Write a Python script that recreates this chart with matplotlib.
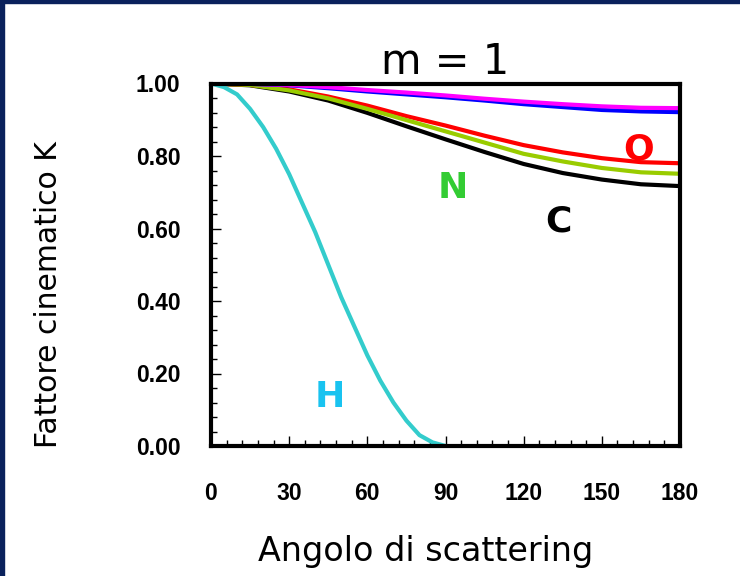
import matplotlib
matplotlib.use("Agg")
import matplotlib.pyplot as plt
from matplotlib.ticker import MultipleLocator, FormatStrFormatter
from matplotlib.patches import Rectangle

# ---- data ----
angles_h = [0, 5, 10, 15, 20, 25, 30, 35, 40, 45, 50, 55, 60, 65, 70, 75, 80, 85, 90]
k_h = [1.00, 0.99, 0.97, 0.93, 0.88, 0.82, 0.75, 0.67, 0.59, 0.50, 0.41, 0.33,
       0.25, 0.18, 0.12, 0.07, 0.03, 0.01, 0.00]

angles = [0, 15, 30, 45, 60, 75, 90, 105, 120, 135, 150, 165, 180]
k_c = [1.000, 0.995, 0.978, 0.953, 0.919, 0.882, 0.846, 0.811, 0.778, 0.753, 0.735, 0.722, 0.717]
k_n = [1.000, 0.996, 0.981, 0.959, 0.930, 0.899, 0.868, 0.837, 0.806, 0.785, 0.767, 0.755, 0.751]
k_o = [1.000, 0.996, 0.984, 0.964, 0.939, 0.910, 0.884, 0.856, 0.830, 0.810, 0.794, 0.783, 0.780]
k_blue = [1.000, 0.999, 0.995, 0.987, 0.978, 0.970, 0.962, 0.953, 0.943, 0.935, 0.927, 0.923, 0.921]
k_mag = [1.000, 0.999, 0.996, 0.990, 0.982, 0.975, 0.967, 0.958, 0.950, 0.943, 0.937, 0.933, 0.932]

x_ticks = [0, 30, 60, 90, 120, 150, 180]
y_ticks = [0.0, 0.2, 0.4, 0.6, 0.8, 1.0]

labels = ["H", "N", "C", "O"]
label_pos = [(45.7, 0.136), (92.9, 0.712), (133.5, 0.618), (164.2, 0.817)]
label_colors = ["#19c3f0", "#33cc33", "#000000", "#ff0000"]

# tick labels: bold Arial-like
plt.rcParams["font.family"] = ["Liberation Sans", "DejaVu Sans"]
plt.rcParams["font.weight"] = "bold"

# ---- figure ----
fig = plt.figure(figsize=(7.4, 5.76), dpi=100)
fig.patch.set_facecolor("white")
# navy frame strips (top and left)
fig.patches.append(Rectangle((0, 0), 4 / 740, 1, transform=fig.transFigure,
                             color="#0a215c", zorder=0))
fig.patches.append(Rectangle((0, 1 - 3 / 576), 1, 3 / 576, transform=fig.transFigure,
                             color="#0a215c", zorder=0))

ax = fig.add_axes([211 / 740, 1 - 446 / 576, 469 / 740, 362.5 / 576])

lw = 3.0
ax.plot(angles, k_c, color="#000000", lw=lw)
ax.plot(angles, k_o, color="#ff0000", lw=lw)
ax.plot(angles, k_n, color="#99cc00", lw=lw)
ax.plot(angles, k_blue, color="#0000ff", lw=lw)
ax.plot(angles, k_mag, color="#ff00ff", lw=lw)
ax.plot(angles_h, k_h, color="#33cccc", lw=lw)

for txt, (px, py), col in zip(labels, label_pos, label_colors):
    ax.text(px, py, txt, color=col, fontsize=26, fontweight="bold",
            family="DejaVu Sans", ha="center", va="center")

ax.set_xlim(0, 180)
ax.set_ylim(0, 1)
ax.set_xticks(x_ticks)
ax.set_yticks(y_ticks)
ax.xaxis.set_minor_locator(MultipleLocator(6))
ax.yaxis.set_minor_locator(MultipleLocator(0.04))
ax.yaxis.set_major_formatter(FormatStrFormatter("%.2f"))

for sp in ax.spines.values():
    sp.set_linewidth(3.0)
    sp.set_color("black")

ax.tick_params(which="both", direction="in", top=False, right=False)
ax.tick_params(which="major", length=7, width=1.0, labelsize=16.5)
ax.tick_params(which="minor", length=4, width=1.0)
ax.tick_params(axis="y", which="major", pad=22)
ax.tick_params(axis="x", which="major", pad=26)

ax.set_title("m = 1", fontsize=30, family="DejaVu Sans", fontweight="normal", pad=4)

ax.set_xlabel("Angolo di scattering", fontsize=24, family="DejaVu Sans",
              fontweight="normal")
ax.xaxis.set_label_coords(0.457, -0.292)
ax.xaxis.label.set_verticalalignment("center")

ax.set_ylabel("Fattore cinematico K", fontsize=21.5, family="DejaVu Sans",
              fontweight="normal")
ax.yaxis.set_label_coords(-0.3475, 0.419)
ax.yaxis.label.set_verticalalignment("center")

fig.savefig("out.png", dpi=100)
